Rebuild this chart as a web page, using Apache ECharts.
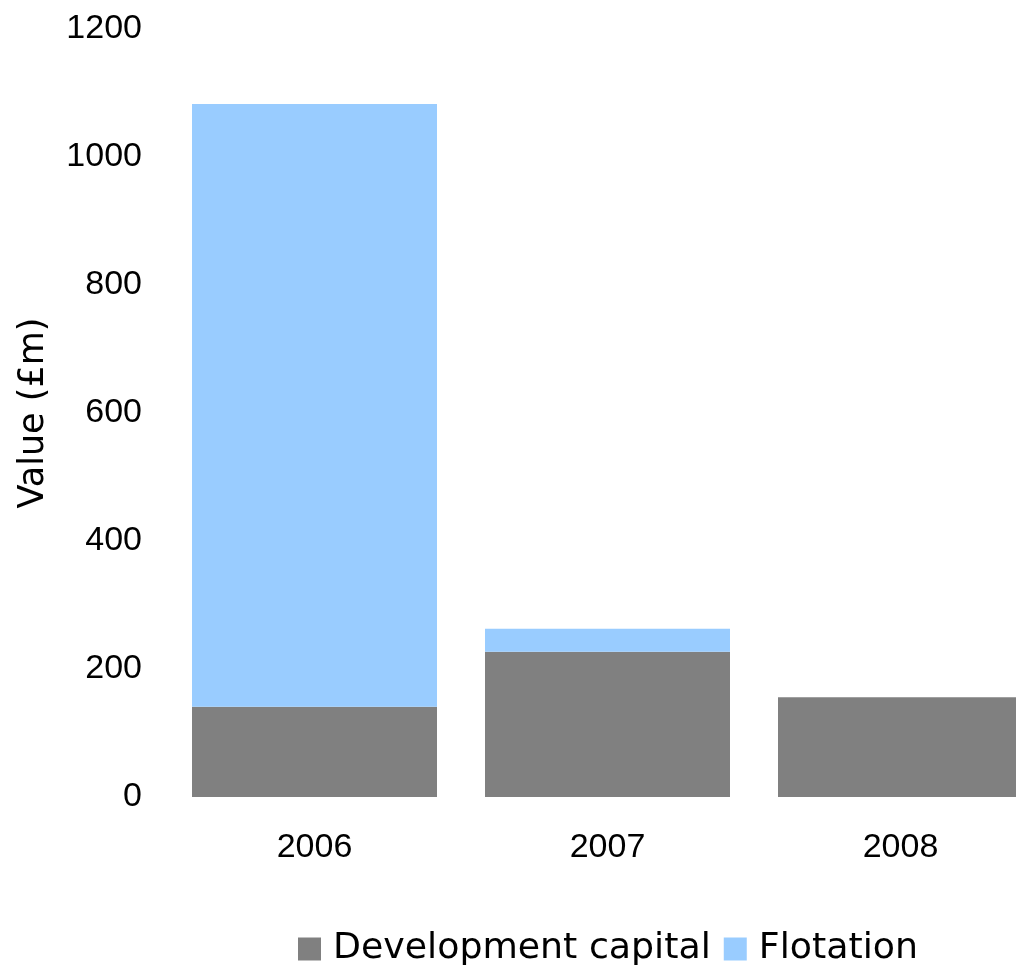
<!DOCTYPE html>
<html>
<head>
<meta charset="utf-8">
<script src="https://cdn.jsdelivr.net/npm/echarts@6/dist/echarts.min.js"></script>
<style>html,body{margin:0;padding:0;background:#fff}#c{width:1016px;height:967px}</style>
</head>
<body>
<div id="c"></div>
<script>
const years = ['2006', '2007', '2008'];
const developmentCapital = [141, 227, 156];
const flotation = [942, 36, 0];
const yTicks = [0, 200, 400, 600, 800, 1000, 1200];

const tickFont = "'Liberation Sans', Arial, Helvetica, sans-serif";
const textFont = "'DejaVu Sans', Verdana, sans-serif";

const chart = echarts.init(document.getElementById('c'), null, {renderer: 'canvas'});
chart.setOption({
  animation: false,
  backgroundColor: '#ffffff',
  grid: {left: 168, width: 879, top: 29, bottom: 170, containLabel: false, outerBoundsMode: 'none'},
  legend: {
    left: 293, bottom: -5,
    itemWidth: 23, itemHeight: 23, itemGap: 13,
    icon: 'rect',
    textStyle: {fontFamily: textFont, fontSize: 36.3, color: '#000', padding: [0, 0, 0, 7]},
    data: ['Development capital', 'Flotation']
  },
  xAxis: {
    type: 'category', data: years,
    axisLine: {show: false}, axisTick: {show: false},
    axisLabel: {fontFamily: tickFont, fontSize: 34, color: '#000', margin: 34}
  },
  yAxis: {
    type: 'value', min: yTicks[0], max: yTicks[yTicks.length - 1], interval: 200,
    name: 'Value (£m)', nameLocation: 'middle', nameGap: 117,
    nameTextStyle: {fontFamily: textFont, fontSize: 35, color: '#000'},
    axisLine: {show: false}, axisTick: {show: false}, splitLine: {show: false},
    axisLabel: {fontFamily: tickFont, fontSize: 34, color: '#000', margin: 26,
                formatter: function (v) { return String(v); }}
  },
  series: [
    {name: 'Development capital', type: 'bar', stack: 'a', data: developmentCapital, barWidth: 245,
     itemStyle: {color: '#808080'}},
    {name: 'Flotation', type: 'bar', stack: 'a', data: flotation, barWidth: 245,
     itemStyle: {color: '#99CCFF'}}
  ]
});
</script>
</body>
</html>
